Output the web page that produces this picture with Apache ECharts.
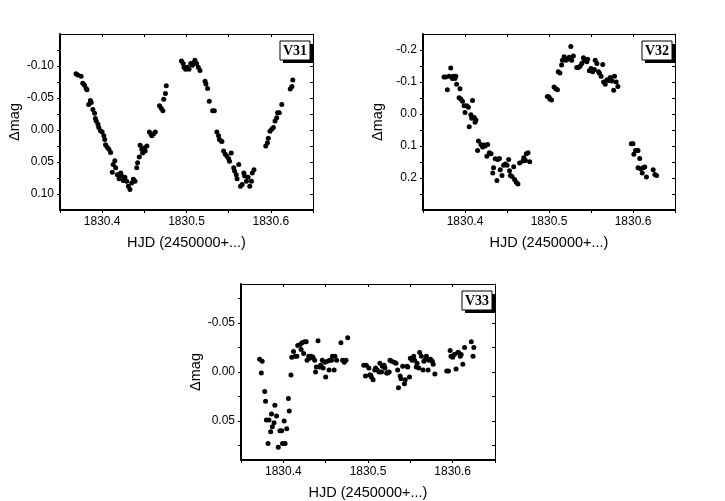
<!DOCTYPE html>
<html><head><meta charset="utf-8">
<script src="https://cdn.jsdelivr.net/npm/echarts@6/dist/echarts.min.js"></script>
<style>html,body{margin:0;padding:0;background:#fff}#c{width:725px;height:501px}</style>
</head><body><div id="c"></div><script>
// ---- V31 ----
const v31x = [1830.369,1830.371,1830.375,1830.377,1830.379,1830.381,1830.382,1830.384,1830.386,1830.387,1830.389,1830.391,1830.392,1830.393,1830.395,1830.396,1830.398,1830.400,1830.402,1830.403,1830.404,1830.406,1830.408,1830.410,1830.412,1830.413,1830.415,1830.416,1830.418,1830.420,1830.422,1830.423,1830.425,1830.427,1830.429,1830.431,1830.433,1830.435,1830.437,1830.439,
1830.441,1830.442,1830.444,1830.445,1830.447,1830.448,1830.450,1830.451,1830.453,1830.456,1830.458,1830.459,1830.461,1830.463,1830.468,1830.470,1830.472,1830.473,1830.475,1830.476,
1830.494,1830.496,1830.497,1830.499,1830.501,1830.503,1830.505,1830.507,1830.509,1830.510,1830.512,1830.514,1830.516,1830.522,1830.523,1830.525,1830.527,1830.531,1830.533,
1830.536,1830.538,1830.539,1830.541,1830.542,1830.544,1830.546,1830.548,1830.550,1830.551,1830.553,1830.556,1830.557,1830.559,1830.560,1830.562,1830.564,1830.566,1830.568,1830.569,1830.571,1830.573,1830.575,1830.577,1830.578,1830.580,
1830.594,1830.596,1830.597,1830.599,1830.601,1830.603,1830.605,1830.607,1830.608,1830.610,1830.613,1830.623,1830.625,1830.626];
const v31y = [-0.088,-0.086,-0.084,-0.073,-0.070,-0.065,-0.063,-0.040,-0.046,-0.043,-0.032,-0.026,-0.018,-0.014,-0.009,-0.004,0.001,0.003,0.009,0.015,0.023,0.027,0.030,0.035,0.066,0.054,0.048,0.059,0.070,0.076,0.067,0.072,0.079,0.074,0.080,0.088,0.093,0.083,0.077,0.080,
0.059,0.051,0.042,0.024,0.030,0.036,0.028,0.033,0.025,0.003,0.007,0.009,0.006,0.003,-0.038,-0.034,-0.030,-0.048,-0.057,-0.069,
-0.108,-0.104,-0.098,-0.095,-0.098,-0.095,-0.104,-0.101,-0.106,-0.109,-0.104,-0.098,-0.093,-0.076,-0.072,-0.065,-0.045,-0.030,-0.030,
0.003,0.009,0.015,0.017,0.018,0.033,0.038,0.041,0.045,0.049,0.036,0.059,0.064,0.070,0.076,0.054,0.088,0.085,0.067,0.072,0.080,0.074,0.088,0.080,0.067,0.062,
0.025,0.020,0.013,0.002,-0.001,-0.004,-0.014,-0.019,-0.027,-0.027,-0.040,-0.064,-0.068,-0.078];

// ---- V32 ----
const v32x = [1830.375,1830.377,1830.379,1830.381,1830.383,1830.385,1830.386,1830.388,1830.389,1830.390,1830.394,1830.393,1830.395,1830.397,1830.399,1830.400,1830.402,1830.404,1830.405,1830.407,1830.409,1830.408,1830.411,1830.412,1830.413,
1830.416,1830.415,1830.419,1830.421,1830.423,1830.424,1830.426,1830.427,1830.429,1830.431,1830.433,1830.434,1830.436,1830.438,1830.439,1830.441,1830.442,1830.444,1830.446,1830.448,1830.450,1830.452,1830.453,1830.454,1830.456,1830.458,1830.459,1830.461,1830.463,1830.465,1830.469,1830.470,1830.472,1830.473,1830.475,1830.477,
1830.498,1830.500,1830.501,1830.503,1830.506,1830.508,1830.510,1830.511,1830.513,1830.515,1830.516,1830.518,1830.520,1830.522,1830.524,1830.526,1830.527,1830.529,1830.533,1830.535,1830.537,1830.539,1830.541,1830.542,1830.545,1830.546,1830.548,1830.550,1830.552,1830.554,1830.555,1830.557,1830.559,1830.560,1830.562,1830.564,1830.565,1830.567,1830.569,1830.571,1830.573,1830.575,1830.577,1830.578,1830.580,1830.582,
1830.598,1830.600,1830.601,1830.603,1830.605,1830.606,1830.608,1830.606,1830.609,1830.611,1830.612,1830.614,1830.616,1830.624,1830.626,1830.628];
const v32y = [-0.116,-0.116,-0.076,-0.118,-0.144,-0.111,-0.118,-0.111,-0.118,-0.093,-0.079,-0.051,-0.047,-0.040,-0.026,-0.005,-0.026,-0.021,0.040,0.002,-0.042,0.013,0.011,0.026,0.019,
0.084,0.114,0.095,0.103,0.097,0.100,0.132,0.095,0.121,0.124,0.184,0.168,0.140,0.208,0.142,0.139,0.174,0.192,0.160,0.156,0.160,0.142,0.177,0.192,0.195,0.165,0.205,0.213,0.219,0.153,0.147,0.137,0.145,0.124,0.121,0.149,
-0.055,-0.053,-0.047,-0.044,-0.084,-0.079,-0.076,-0.132,-0.128,-0.153,-0.168,-0.179,-0.168,-0.171,-0.177,-0.211,-0.168,-0.181,-0.145,-0.145,-0.149,-0.158,-0.176,-0.168,-0.163,-0.171,-0.135,-0.142,-0.132,-0.139,-0.168,-0.158,-0.132,-0.128,-0.118,-0.155,-0.100,-0.093,-0.107,-0.105,-0.114,-0.103,-0.074,-0.118,-0.100,-0.086,
0.093,0.093,0.126,0.114,0.114,0.114,0.139,0.168,0.171,0.184,0.168,0.166,0.197,0.174,0.189,0.192];

// ---- V33 ----
const v33x = [1830.372,1830.375,1830.374,1830.378,1830.379,1830.380,1830.382,1830.383,1830.385,1830.386,1830.387,1830.389,1830.390,1830.392,1830.394,1830.396,1830.398,1830.399,1830.401,1830.402,1830.404,1830.406,1830.407,1830.409,
1830.410,1830.412,1830.414,1830.416,1830.417,1830.420,1830.421,1830.422,1830.424,1830.425,1830.427,1830.428,1830.430,1830.431,1830.433,1830.435,1830.437,1830.438,1830.439,1830.441,1830.443,1830.444,1830.446,1830.447,1830.449,1830.450,1830.452,1830.454,1830.455,1830.457,1830.458,1830.460,1830.461,1830.463,1830.468,1830.470,1830.472,1830.474,1830.476,
1830.495,1830.497,1830.498,1830.501,1830.502,1830.503,1830.504,1830.506,1830.508,1830.509,1830.511,1830.513,1830.514,1830.516,1830.517,1830.519,1830.520,1830.522,1830.523,1830.525,1830.526,1830.528,1830.531,1830.533,1830.535,1830.536,1830.538,1830.539,1830.541,1830.543,1830.544,1830.546,1830.547,1830.549,1830.550,1830.552,1830.554,1830.555,1830.557,1830.558,1830.560,1830.561,1830.563,1830.565,1830.566,1830.568,1830.569,1830.571,1830.572,1830.574,1830.576,1830.577,1830.579,
1830.593,1830.595,1830.597,1830.598,1830.600,1830.602,1830.604,1830.606,1830.607,1830.609,1830.610,1830.612,1830.614,1830.622,1830.624,1830.625];
const v33y = [-0.013,-0.011,0.001,0.020,0.030,0.049,0.073,0.049,0.061,0.043,0.056,0.052,0.034,0.045,0.077,0.060,0.060,0.073,0.050,0.073,0.058,0.027,0.040,0.003,
-0.015,-0.021,-0.016,-0.016,-0.027,-0.028,-0.023,-0.030,-0.019,-0.031,-0.031,-0.012,-0.016,-0.014,-0.016,-0.015,-0.012,0.000,-0.005,-0.032,-0.005,-0.007,-0.012,-0.004,-0.010,0.005,-0.011,-0.002,-0.012,-0.012,-0.016,-0.002,-0.016,-0.012,-0.030,-0.012,-0.010,-0.012,-0.035,
-0.007,0.004,-0.007,-0.004,0.003,0.003,0.005,0.008,-0.002,-0.004,-0.002,0.000,-0.009,0.000,-0.006,-0.007,-0.004,0.001,0.001,0.000,-0.012,-0.011,-0.010,-0.009,-0.002,0.016,0.004,0.007,-0.006,0.012,0.008,-0.006,-0.005,0.005,-0.014,-0.012,-0.016,-0.012,-0.005,-0.009,-0.004,-0.020,-0.016,-0.002,-0.011,-0.013,-0.016,-0.002,-0.012,-0.013,-0.011,-0.008,0.002,
-0.001,-0.001,-0.022,-0.016,-0.015,-0.018,-0.003,-0.020,-0.020,-0.016,-0.018,-0.008,-0.025,-0.031,-0.016,-0.025];

// ---- ticks / labels ----
const xRange = [1830.35, 1830.65];
const xTicks = [1830.35,1830.4,1830.45,1830.5,1830.55,1830.6,1830.65];
const xLabels = [1830.4,1830.5,1830.6];
const y31Range = [-0.15, 0.125];
const y31Ticks = [-0.125,-0.1,-0.075,-0.05,-0.025,0,0.025,0.05,0.075,0.1];
const y31Labels = [-0.1,-0.05,0,0.05,0.1];
const y32Range = [-0.25, 0.3];
const y32Ticks = [-0.2,-0.15,-0.1,-0.05,0,0.05,0.1,0.15,0.2,0.25];
const y32Labels = [-0.2,-0.1,0,0.1,0.2];
const y33Range = [-0.09, 0.09];
const y33Ticks = [-0.075,-0.05,-0.025,0,0.025,0.05,0.075];
const y33Labels = [-0.05,0,0.05];
const xTitle = 'HJD (2450000+...)';
const yTitle = 'Δmag';
const names = ['V31','V32','V33'];

const FONT = 'Liberation Sans, Arial, sans-serif';
const grids = [
  {left:60, top:34, width:253, height:176},
  {left:423, top:34, width:252, height:176},
  {left:241, top:284, width:254, height:176}
];
const panels = [
  {xs:v31x, ys:v31y, yr:y31Range, yt:y31Ticks, yl:y31Labels, dec:2},
  {xs:v32x, ys:v32y, yr:y32Range, yt:y32Ticks, yl:y32Labels, dec:1},
  {xs:v33x, ys:v33y, yr:y33Range, yt:y33Ticks, yl:y33Labels, dec:2}
];
function fmt(v, d){ return (Math.abs(v) < 1e-9 ? 0 : v).toFixed(d); }

const xAxis = [], yAxis = [], series = [], graphic = [];
panels.forEach((p, i) => {
  xAxis.push({gridIndex:i, type:'value', min:xRange[0], max:xRange[1], position:'bottom',
    axisLine:{onZero:false, lineStyle:{color:'#000', width:2}},
    axisTick:{inside:false, length:3, customValues:xTicks, lineStyle:{color:'#000', width:1}},
    axisLabel:{customValues:xLabels, formatter:v=>fmt(v,1), color:'#000', fontSize:12, margin:6, fontFamily:FONT},
    splitLine:{show:false},
    name:xTitle, nameLocation:'middle', nameGap:25,
    nameTextStyle:{color:'#000', fontSize:14.5, fontFamily:FONT}});
  xAxis.push({gridIndex:i, type:'value', min:xRange[0], max:xRange[1], position:'top',
    axisLine:{onZero:false, lineStyle:{color:'#000', width:1}},
    axisTick:{inside:true, length:3, customValues:xTicks, lineStyle:{color:'#000', width:1}},
    axisLabel:{show:false}, splitLine:{show:false}});
  yAxis.push({gridIndex:i, type:'value', inverse:true, min:p.yr[0], max:p.yr[1], position:'left',
    axisLine:{onZero:false, lineStyle:{color:'#000', width:2}},
    axisTick:{inside:false, length:3, customValues:p.yt, lineStyle:{color:'#000', width:1}},
    axisLabel:{customValues:p.yl, formatter:v=>fmt(v,p.dec), color:'#000', fontSize:12, margin:6, fontFamily:FONT},
    splitLine:{show:false},
    name:yTitle, nameLocation:'middle', nameGap:38,
    nameTextStyle:{color:'#000', fontSize:14.5, fontFamily:FONT}});
  yAxis.push({gridIndex:i, type:'value', inverse:true, min:p.yr[0], max:p.yr[1], position:'right',
    axisLine:{onZero:false, lineStyle:{color:'#000', width:1}},
    axisTick:{inside:true, length:3, customValues:p.yt, lineStyle:{color:'#000', width:1}},
    axisLabel:{show:false}, splitLine:{show:false}});
  series.push({type:'scatter', xAxisIndex:2*i, yAxisIndex:2*i, symbol:'circle', symbolSize:5,
    itemStyle:{color:'#000', opacity:1}, data:p.xs.map((x,k)=>[x, p.ys[k]]), silent:true, animation:false});
  const g = grids[i];
  const bx = g.left + g.width - 33, by = g.top + 7;
  graphic.push({type:'rect', shape:{x:bx+3, y:by+3, width:30, height:19}, style:{fill:'#000'}});
  graphic.push({type:'rect', shape:{x:bx, y:by, width:30, height:19}, style:{fill:'#fff', stroke:'#000', lineWidth:1}});
  graphic.push({type:'text', x:bx+15, y:by+10, style:{text:names[i], fill:'#000', font:'bold 14px "Liberation Serif", "Times New Roman", serif', textAlign:'center', textVerticalAlign:'middle'}});
});

const chart = echarts.init(document.getElementById('c'), null, {renderer:'canvas'});
chart.setOption({animation:false, backgroundColor:'#fff', grid:grids, xAxis, yAxis, series, graphic});
</script></body></html>
